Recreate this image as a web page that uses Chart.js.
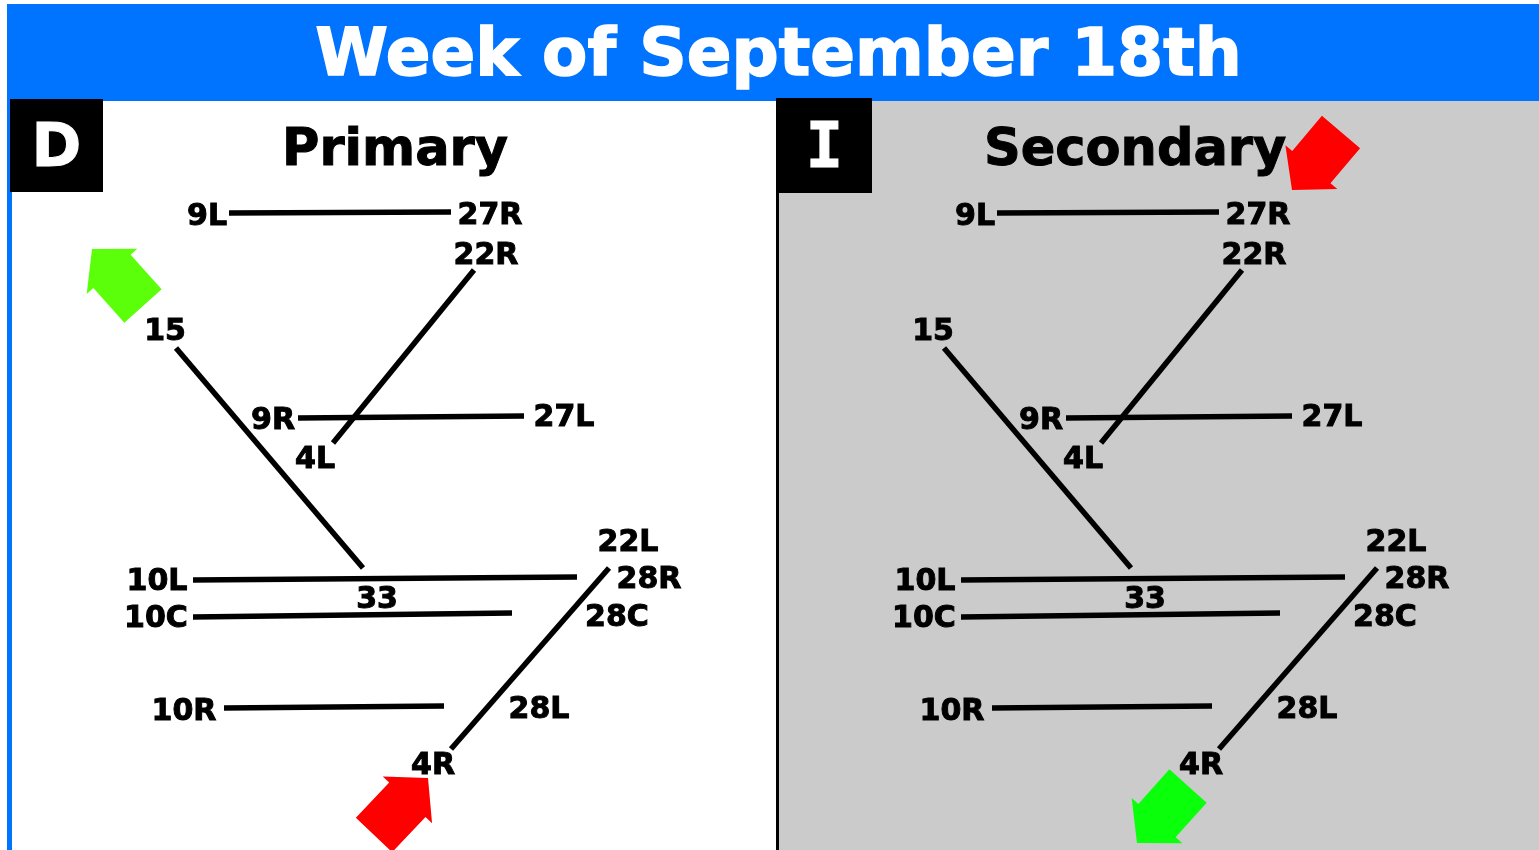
<!DOCTYPE html>
<html>
<head>
<meta charset="utf-8">
<script src="https://cdn.jsdelivr.net/npm/chart.js@4.4.1/dist/chart.umd.min.js"></script>
<style>
body{margin:0;background:#fff;width:1539px;height:850px;overflow:hidden;position:relative;font-family:"DejaVu Sans",Verdana,sans-serif;}
#header{position:absolute;left:7px;top:4px;width:1532px;height:97px;background:#0073ff;}
#title{position:absolute;left:0;top:4px;width:1539px;height:97px;line-height:97px;text-align:center;color:#fff;font-weight:bold;font-size:66px;padding-left:18px;box-sizing:border-box;-webkit-text-stroke:1.5px #fff;}
#leftEdge{position:absolute;left:7px;top:4px;width:5px;height:846px;background:#0073ff;}
#divider{position:absolute;left:776px;top:98px;width:3px;height:752px;background:#000;}
#rightPanel{position:absolute;left:779px;top:101px;width:760px;height:749px;background:#cbcbcb;}
.box{position:absolute;background:#000;color:#fff;font-weight:bold;text-align:center;}
#boxD{left:10px;top:99px;width:93px;height:93px;line-height:93px;font-size:60px;-webkit-text-stroke:1px #fff;}
#boxI{left:777px;top:98px;width:95px;height:95px;line-height:95px;font-size:62px;font-family:"DejaVu Sans Mono",monospace;-webkit-text-stroke:1px #fff;}
.ptitle{position:absolute;top:118px;height:60px;line-height:60px;font-weight:bold;font-size:51px;color:#000;text-align:center;-webkit-text-stroke:1px #000;}
#tPrimary{left:245px;width:300px;}
#tSecondary{left:984px;width:300px;}
.wrap{position:absolute;top:101px;height:749px;}
#wrapL{left:12px;width:764px;}
#wrapR{left:779px;width:760px;}
</style>
</head>
<body>
<div id="header"></div>
<div id="title">Week of September 18th</div>
<div id="leftEdge"></div>
<div id="rightPanel"></div>
<div id="divider"></div>
<div class="wrap" id="wrapL"><canvas id="primary"></canvas></div>
<div class="wrap" id="wrapR"><canvas id="secondary"></canvas></div>
<div class="box" id="boxD">D</div>
<div class="box" id="boxI">I</div>
<div class="ptitle" id="tPrimary">Primary</div>
<div class="ptitle" id="tSecondary">Secondary</div>
<script>
// runway layout (diagram units, same for both configurations)
const runwayNames = ['9L-27R', '22R-4L', '15-33', '9R-27L', '10L-28R', '10C-28C', '22L-4R', '10R-28L'];
const runwayX1 = [229, 474, 176, 298, 193, 193, 609, 224];
const runwayY1 = [213, 270, 348, 418, 580, 617, 568, 708];
const runwayX2 = [451, 333, 363, 524, 577, 512, 451, 444];
const runwayY2 = [212, 443, 568, 416, 577, 613, 749, 706];

// runway end labels
const endLabels = ['9L', '27R', '22R', '15', '9R', '27L', '4L', '22L', '28R', '10L', '33', '10C', '28C', '10R', '28L', '4R'];
const endLabelX = [207, 490, 486, 165, 273, 564, 315, 628, 649, 157, 377, 156, 617, 184, 539, 433];
const endLabelY = [214, 213, 253, 329, 418, 415, 457, 540, 577, 579, 597, 616, 615, 709, 707, 763];

// flow arrows: tail -> tip
const primaryArrowTailX = [143, 374];
const primaryArrowTailY = [306, 835];
const primaryArrowTipX = [92, 428];
const primaryArrowTipY = [249, 778];
const primaryArrowColors = ['#5cff0a', '#ff0000'];

const secondaryArrowTailX = [573, 420];
const secondaryArrowTailY = [132, 786];
const secondaryArrowTipX = [524, 369];
const secondaryArrowTipY = [190, 843];
const secondaryArrowColors = ['#ff0000', '#0aff0a'];

const labelPlugin = {
    id: 'endLabels',
    afterDatasetsDraw(chart) {
        const {ctx, scales: {x, y}} = chart;
        ctx.save();
        ctx.font = 'bold 30px "DejaVu Sans"';
        ctx.textAlign = 'center';
        ctx.textBaseline = 'alphabetic';
        ctx.fillStyle = '#000';
        ctx.strokeStyle = '#000';
        ctx.lineWidth = 1;
        endLabels.forEach(function(t, i) {
            const px = x.getPixelForValue(endLabelX[i]);
            const py = y.getPixelForValue(endLabelY[i]) + 11;
            ctx.fillText(t, px, py);
            ctx.strokeText(t, px, py);
        });
        ctx.restore();
    }
};

const arrowPlugin = {
    id: 'flowArrows',
    afterDatasetsDraw(chart, args, opts) {
        const {ctx, scales: {x, y}} = chart;
        const a = opts.arrows;
        ctx.save();
        for (let i = 0; i < a.tailX.length; i++) {
            const tx = x.getPixelForValue(a.tailX[i]), ty = y.getPixelForValue(a.tailY[i]);
            const px = x.getPixelForValue(a.tipX[i]), py = y.getPixelForValue(a.tipY[i]);
            const len = Math.hypot(px - tx, py - ty);
            const dx = (px - tx) / len, dy = (py - ty) / len;
            const nx = -dy, ny = dx;
            const hl = 30, hw = 34, sw = 25;
            const bx = px - dx * hl, by = py - dy * hl;
            ctx.beginPath();
            ctx.moveTo(px, py);
            ctx.lineTo(bx + nx * hw, by + ny * hw);
            ctx.lineTo(bx + nx * sw, by + ny * sw);
            ctx.lineTo(tx + nx * sw, ty + ny * sw);
            ctx.lineTo(tx - nx * sw, ty - ny * sw);
            ctx.lineTo(bx - nx * sw, by - ny * sw);
            ctx.lineTo(bx - nx * hw, by - ny * hw);
            ctx.closePath();
            ctx.fillStyle = a.colors[i];
            ctx.fill();
        }
        ctx.restore();
    }
};

function runwayDatasets() {
    return runwayNames.map(function(name, i) {
        return {
            label: name,
            data: [{x: runwayX1[i], y: runwayY1[i]}, {x: runwayX2[i], y: runwayY2[i]}],
            showLine: true,
            borderColor: '#000',
            borderWidth: 5.5,
            pointRadius: 0,
            clip: false
        };
    });
}

function makeChart(id, xMin, xMax, arrows) {
    return new Chart(document.getElementById(id).getContext('2d'), {
        type: 'scatter',
        data: {datasets: runwayDatasets()},
        options: {
            responsive: true,
            maintainAspectRatio: false,
            animation: false,
            layout: {padding: 0},
            scales: {
                x: {type: 'linear', display: false, min: xMin, max: xMax},
                y: {type: 'linear', display: false, min: 101, max: 850, reverse: true}
            },
            plugins: {
                legend: {display: false},
                tooltip: {enabled: false},
                flowArrows: {arrows: arrows}
            }
        },
        plugins: [labelPlugin, arrowPlugin]
    });
}

let primaryChart = makeChart('primary', 12, 776, {
    tailX: primaryArrowTailX, tailY: primaryArrowTailY,
    tipX: primaryArrowTipX, tipY: primaryArrowTipY, colors: primaryArrowColors
});
let secondaryChart = makeChart('secondary', 11, 771, {
    tailX: secondaryArrowTailX, tailY: secondaryArrowTailY,
    tipX: secondaryArrowTipX, tipY: secondaryArrowTipY, colors: secondaryArrowColors
});
</script>
</body>
</html>
